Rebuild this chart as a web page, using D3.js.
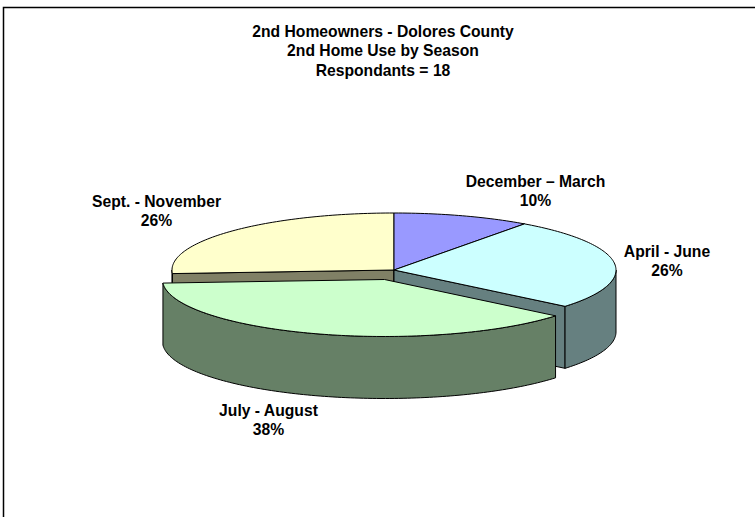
<!DOCTYPE html>
<html><head><meta charset="utf-8">
<script src="https://cdn.jsdelivr.net/npm/d3@7"></script>
<style>html,body{margin:0;padding:0;background:#fff}svg{display:block}text{font-family:"Liberation Sans",Arial,sans-serif;font-weight:bold;font-size:15.7px;fill:#000;text-anchor:middle}</style>
</head><body><script>
const titleLines = ["2nd Homeowners - Dolores County","2nd Home Use by Season","Respondants = 18"];
const categories = ["December \u2013 March","April - June","July - August","Sept. - November"];
const values = [10,26,38,26];
const topColors = ["#9999FF","#CCFFFF","#CCFFCC","#FFFFCC"];
const wallColors = ["#666699","#668080","#668066","#808066"];
const labelPos = [[535.5,186.5],[667,256.5],[268.5,415.5],[156.5,206.5]];
const exploded = [0,0,1,0];

const W=755,H=517,cx=394,cy=270,rx=222,ry=57,depth=62,ex=-9.5,ey=9.5;
const svg=d3.select("body").append("svg").attr("width",W).attr("height",H);
svg.append("path").attr("d",`M3.5,${H}V7.5H${W}`).attr("fill","none").attr("stroke","#000").attr("stroke-width",1.5);

const arcs=d3.pie().sort(null).startAngle(0).endAngle(2*Math.PI)(values);
const px=d3.scaleLinear().domain([-1,1]).range([cx-rx,cx+rx]);
const py=d3.scaleLinear().domain([-1,1]).range([cy-ry,cy+ry]);
const pt=(a,dx,dy,r=1)=>[px(r*Math.sin(a))+dx,py(-r*Math.cos(a))+dy];
function sample(a0,a1,dx,dy){const n=Math.max(2,Math.ceil(Math.abs(a1-a0)/0.02));return d3.range(n+1).map(i=>pt(a0+(a1-a0)*i/n,dx,dy));}
const line=d3.line();
const stroke=(s,fill)=>s.attr("fill",fill).attr("stroke","#000").attr("stroke-width",1).attr("stroke-linejoin","round");
const g=svg.append("g");

function drawWalls(i){
  const d=arcs[i],dx=exploded[i]*ex,dy=exploded[i]*ey,c=pt(0,dx,dy,0);
  const quad=p=>stroke(g.append("path").attr("d",line([p,[p[0],p[1]+depth],[c[0],c[1]+depth],c])+"Z"),wallColors[i]);
  if(Math.sin(d.startAngle)<-1e-6) quad(pt(d.startAngle,dx,dy));
  if(Math.sin(d.endAngle)>1e-6) quad(pt(d.endAngle,dx,dy));
  const a0=Math.max(d.startAngle,Math.PI/2),a1=Math.min(d.endAngle,3*Math.PI/2);
  if(a1>a0){
    const upper=sample(a0,a1,dx,dy),lower=upper.map(p=>[p[0],p[1]+depth]).reverse();
    stroke(g.append("path").attr("d",line(upper.concat(lower))+"Z"),wallColors[i]);
  }
}
function drawTop(i){
  const d=arcs[i],dx=exploded[i]*ex,dy=exploded[i]*ey;
  stroke(g.append("path").attr("d",line([pt(0,dx,dy,0)].concat(sample(d.startAngle,d.endAngle,dx,dy)))+"Z"),topColors[i]);
}
[3,0,1].forEach(drawWalls);
[3,0,1].forEach(drawTop);
drawWalls(2);drawTop(2);

const t=svg.append("g");
titleLines.forEach((s,i)=>t.append("text").attr("x",383).attr("y",36.5+i*19.7).text(s));
categories.forEach((c,i)=>{
  t.append("text").attr("x",labelPos[i][0]).attr("y",labelPos[i][1]).text(c);
  t.append("text").attr("x",labelPos[i][0]).attr("y",labelPos[i][1]+19.5).text(values[i]+"%");
});
</script></body></html>
